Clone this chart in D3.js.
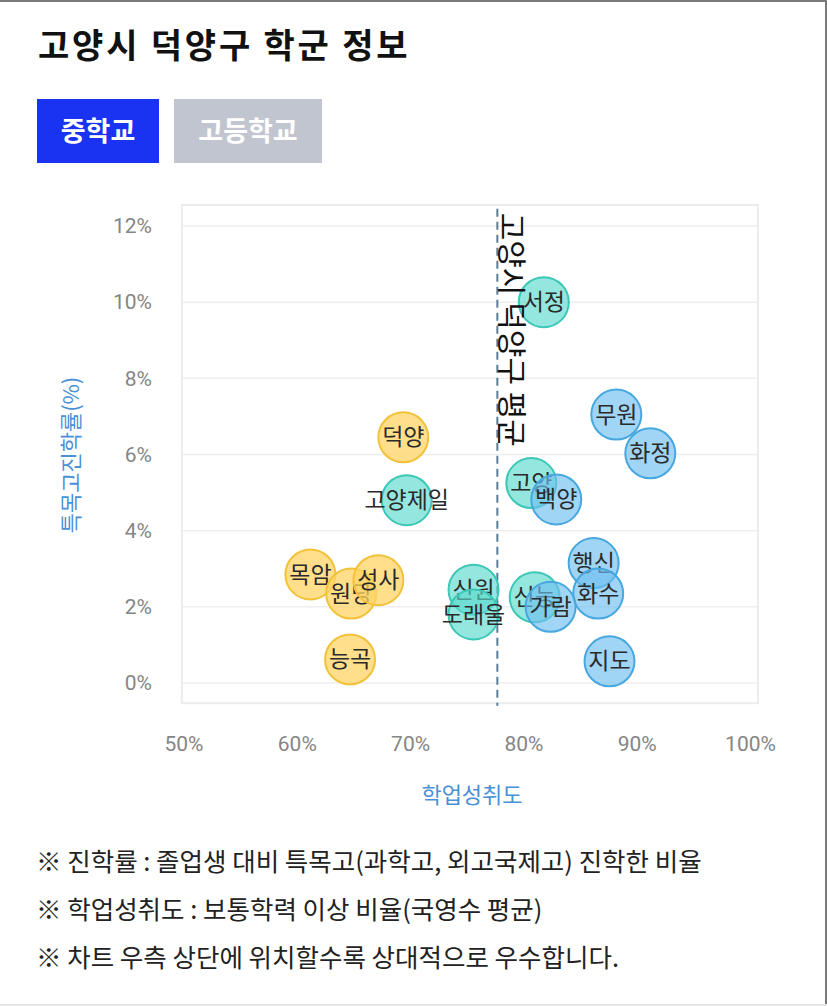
<!DOCTYPE html>
<html>
<head>
<meta charset="utf-8">
<script src="https://cdn.jsdelivr.net/npm/d3@7"></script>
<style>
  body { margin: 0; background: #fff; font-family: "Noto Sans CJK KR", "Noto Sans", sans-serif; }
  svg { display: block; }
</style>
</head>
<body>
<div id="chart"></div>
<script>
// school names, 학업성취도 (%), 특목고진학률 (%), group
const schools = ["덕양", "고양제일", "목암", "원당", "성사", "능곡", "신원", "도래울",
                 "서정", "고양", "백양", "무원", "화정", "행신", "화수", "신능", "가람", "지도"];
const achievement = [69.4, 69.7, 61.2, 64.8, 67.2, 64.7, 75.6, 75.6,
                     81.8, 80.7, 82.9, 88.2, 91.2, 86.2, 86.6, 81.0, 82.4, 87.6];
const advanceRate = [6.45, 4.8, 2.85, 2.35, 2.7, 0.62, 2.45, 1.8,
                     10.0, 5.25, 4.82, 7.05, 6.03, 3.15, 2.35, 2.25, 2.0, 0.57];
const groups = ["low", "mid", "low", "low", "low", "low", "mid", "mid",
                "mid", "mid", "high", "high", "high", "high", "high", "mid", "high", "high"];
const average = 77.7;
const xTicks = [50, 60, 70, 80, 90, 100];
const yTicks = [0, 2, 4, 6, 8, 10, 12];
const notes = [
    "※ 진학률 : 졸업생 대비 특목고(과학고, 외고국제고) 진학한 비율",
    "※ 학업성취도 : 보통학력 이상 비율(국영수 평균)",
    "※ 차트 우측 상단에 위치할수록 상대적으로 우수합니다."
];

const fills = {low: "rgba(255,212,100,0.75)", mid: "rgba(90,218,205,0.65)", high: "rgba(110,190,240,0.65)"};
const strokes = {low: "#f2c23a", mid: "#3cc7b7", high: "#47a7df"};

const W = 827, H = 1006;
const svg = d3.select("#chart").append("svg")
    .attr("width", W)
    .attr("height", H);

// page frame
svg.append("rect").attr("x", 0).attr("y", 0).attr("width", W).attr("height", 2).attr("fill", "#7a7a7a");
svg.append("rect").attr("x", W - 2).attr("y", 0).attr("width", 2).attr("height", H).attr("fill", "#7a7a7a");
svg.append("rect").attr("x", 0).attr("y", H - 2).attr("width", W).attr("height", 2).attr("fill", "#e6e6e6");

// title
svg.append("text")
    .attr("x", 38)
    .attr("y", 58)
    .style("font-size", "34px")
    .style("font-weight", "bold")
    .style("letter-spacing", "2.8px")
    .style("fill", "#111")
    .text("고양시 덕양구 학군 정보");

// tab buttons
const tabs = [
    {label: "중학교", x: 37, w: 122, bg: "#1a33f2"},
    {label: "고등학교", x: 174, w: 148, bg: "#c1c5d0"}
];
const tab = svg.selectAll(".tab").data(tabs).enter().append("g").attr("class", "tab");
tab.append("rect")
    .attr("x", d => d.x).attr("y", 99)
    .attr("width", d => d.w).attr("height", 64)
    .attr("fill", d => d.bg);
tab.append("text")
    .attr("x", d => d.x + d.w / 2).attr("y", 141)
    .attr("text-anchor", "middle")
    .style("font-size", "27px")
    .style("font-weight", "bold")
    .style("fill", "#fff")
    .text(d => d.label);

// scales
var x = d3.scaleLinear().domain([50, 100]).range([183.5, 750]);
var y = d3.scaleLinear().domain([0, 12]).range([683, 226]);

// plot box
const g = svg.append("g");
g.append("rect")
    .attr("x", x(49.85)).attr("y", y(12.55))
    .attr("width", x(100.7) - x(49.85)).attr("height", y(-0.53) - y(12.55))
    .attr("fill", "none")
    .attr("stroke", "#ececec")
    .attr("stroke-width", 2);

// horizontal grid
g.selectAll(".grid").data(yTicks).enter().append("line")
    .attr("x1", x(49.85)).attr("x2", x(100.7))
    .attr("y1", d => y(d)).attr("y2", d => y(d))
    .attr("stroke", "#eeeeee")
    .attr("stroke-width", 1.5);

// y axis
const yAxis = g.append("g")
    .attr("transform", "translate(152,0)")
    .call(d3.axisLeft(y).tickValues(yTicks).tickSize(0).tickPadding(0).tickFormat(d => d + "%"));
yAxis.select(".domain").remove();
yAxis.selectAll("text")
    .style("font-size", "21px")
    .style("font-family", "Roboto, 'Noto Sans CJK KR', sans-serif")
    .style("fill", "#858585");

// x axis
const xAxis = g.append("g")
    .attr("transform", "translate(0,744)")
    .call(d3.axisBottom(x).tickValues(xTicks).tickSize(0).tickPadding(0).tickFormat(d => d + "%"));
xAxis.select(".domain").remove();
xAxis.selectAll("text")
    .attr("dy", "0.32em")
    .style("font-size", "21px")
    .style("font-family", "Roboto, 'Noto Sans CJK KR', sans-serif")
    .style("fill", "#858585");

// axis titles
svg.append("text")
    .attr("transform", "translate(79,455) rotate(-90)")
    .attr("text-anchor", "middle")
    .style("font-size", "22px")
    .style("fill", "#4a90d6")
    .text("특목고진학률(%)");
svg.append("text")
    .attr("x", 472)
    .attr("y", 803)
    .attr("text-anchor", "middle")
    .style("font-size", "22px")
    .style("fill", "#4a90d6")
    .text("학업성취도");

// average line
g.append("line")
    .attr("x1", x(average)).attr("x2", x(average))
    .attr("y1", y(12.45)).attr("y2", y(-0.6))
    .attr("stroke", "#5b7d96")
    .attr("stroke-width", 2)
    .attr("stroke-dasharray", "8,5");

// points
const data = schools.map((s, i) => ({name: s, x: achievement[i], y: advanceRate[i], group: groups[i]}));
const pts = g.selectAll(".pt").data(data).enter().append("g").attr("class", "pt");
pts.append("circle")
    .attr("cx", d => x(d.x))
    .attr("cy", d => y(d.y))
    .attr("r", 25)
    .attr("fill", d => fills[d.group])
    .attr("stroke", d => strokes[d.group])
    .attr("stroke-width", 2);
pts.append("text")
    .attr("x", d => x(d.x))
    .attr("y", d => y(d.y))
    .attr("dy", "0.35em")
    .attr("text-anchor", "middle")
    .style("font-size", "23px")
    .style("fill", "#2a2a2a")
    .text(d => d.name);

// average label (drawn on top)
g.append("text")
    .attr("transform", "translate(" + (x(average) + 4) + "," + y(12.35) + ") rotate(90)")
    .style("font-size", "30px")
    .style("fill", "#111")
    .text("고양시 덕양구 평균");

// notes
svg.selectAll(".note").data(notes).enter().append("text")
    .attr("class", "note")
    .attr("x", 36)
    .attr("y", (d, i) => 871 + i * 48)
    .style("font-size", "25.5px")
    .style("fill", "#222")
    .text(d => d);
</script>
</body>
</html>
